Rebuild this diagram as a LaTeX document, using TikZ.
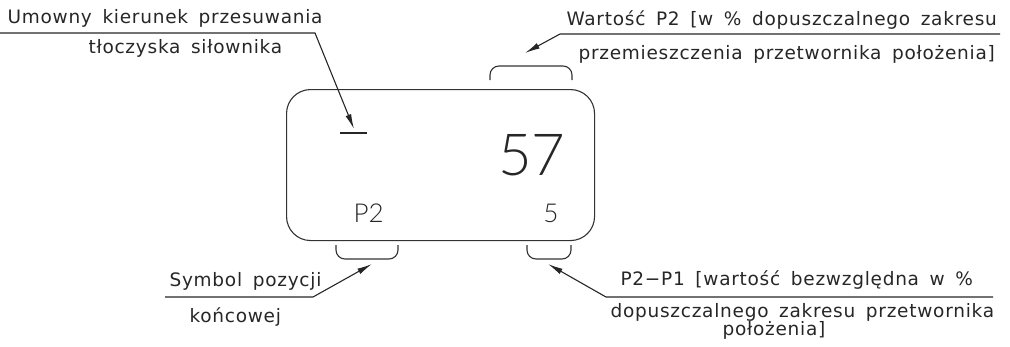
\documentclass[tikz,border=0pt]{standalone}
\usepackage{fontspec}
\setmainfont{DejaVu Sans}[LetterSpace=4,WordSpace=1.6]
\newfontfamily\digitfont{Lato Light}
\usetikzlibrary{arrows.meta}
\begin{document}
\begin{tikzpicture}[x=1pt,y=-1pt, line width=1.1pt,
  lbl/.style={inner sep=0pt, anchor=base west, font=\fontsize{18.5}{18}\selectfont, text=black!85},
  big/.style={inner sep=0pt, anchor=base east, text=black!85},
  lead/.style={draw=black!85, -{Latex[length=15pt,width=6pt]}},
  brk/.style={draw=black!80, rounded corners=9pt}]
\useasboundingbox (0,0) rectangle (1010,346);
% main display
\node[draw=black!80, rounded corners=24pt, minimum width=308pt, minimum height=151pt,
      anchor=north west, inner sep=0pt] (box) at (286,89) {};
\coordinate (dA) at (340,133); \coordinate (dB) at (367,133);
\draw[black!85] (dA) -- (dB);
\node[big, font=\digitfont\fontsize{58}{58}\selectfont] (val) at (566,175) {57};
\node[big, font=\digitfont\fontsize{26}{26}\selectfont, anchor=base west] (pos) at (353,222) {P2};
\node[big, font=\digitfont\fontsize{26}{26}\selectfont] (diff) at (559,222) {5};
% brackets
\coordinate (b1a) at (490,80); \coordinate (b1b) at (490,66); \coordinate (b1c) at (572,66); \coordinate (b1d) at (572,80);
\draw[brk] (b1a) -- (b1b) -- (b1c) -- (b1d);
\coordinate (b2a) at (336,245); \coordinate (b2b) at (336,259); \coordinate (b2c) at (398,259); \coordinate (b2d) at (398,245);
\draw[brk] (b2a) -- (b2b) -- (b2c) -- (b2d);
\coordinate (b3a) at (527,245); \coordinate (b3b) at (527,259); \coordinate (b3c) at (571,259); \coordinate (b3d) at (571,245);
\draw[brk] (b3a) -- (b3b) -- (b3c) -- (b3d);
% top-left label
\node[lbl] (t1a) at (7,23) {Umowny kierunek przesuwania};
\node[lbl] (t1b) at (88,53) {tłoczyska siłownika};
\coordinate (l1s) at (0,33); \coordinate (l1k) at (315,33); \coordinate (l1t) at (354,129);
\draw[lead] (l1s) -- (l1k) -- (l1t);
% top-right label
\node[lbl] (t2a) at (566,25) {Wartość P2 [w \% dopuszczalnego zakresu};
\node[lbl] (t2b) at (578,59) {przemieszczenia przetwornika położenia]};
\coordinate (l2s) at (1000,34); \coordinate (l2k) at (560,34); \coordinate (l2t) at (525,53);
\draw[lead] (l2s) -- (l2k) -- (l2t);
% bottom-left label
\node[lbl] (t3a) at (169,286) {Symbol pozycji};
\node[lbl] (t3b) at (189,322) {końcowej};
\coordinate (l3s) at (165,297); \coordinate (l3k) at (313,297); \coordinate (l3t) at (372,264);
\draw[lead] (l3s) -- (l3k) -- (l3t);
% bottom-right label
\node[lbl] (t4a) at (620,285) {P2−P1 [wartość bezwzględna w \%};
\node[lbl] (t4b) at (610,317) {dopuszczalnego zakresu przetwornika};
\node[lbl] (t4c) at (722,335) {położenia]};
\coordinate (l4s) at (993,297); \coordinate (l4k) at (606,297); \coordinate (l4t) at (548,264);
\draw[lead] (l4s) -- (l4k) -- (l4t);
\end{tikzpicture}
\end{document}
